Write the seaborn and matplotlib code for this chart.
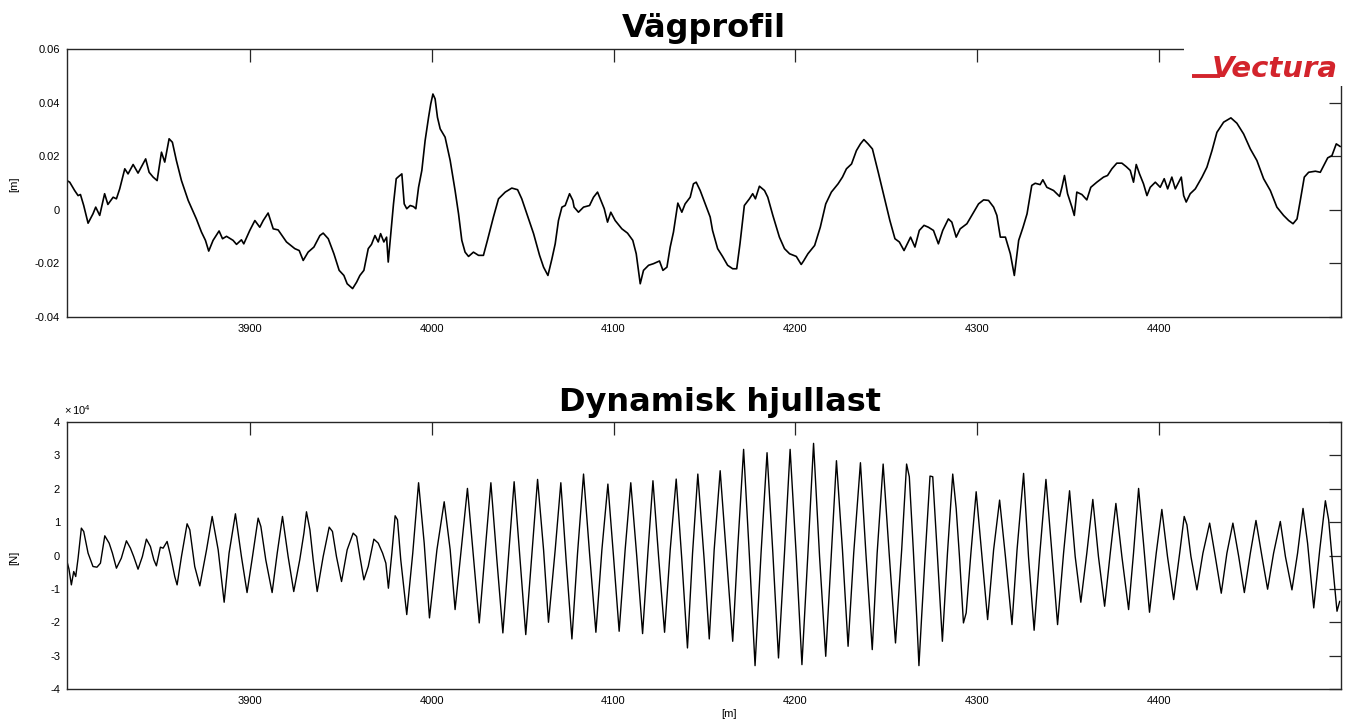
import matplotlib
matplotlib.use("Agg")
import matplotlib.pyplot as plt
import numpy as np
import pandas as pd
import seaborn as sns
from matplotlib.patches import Rectangle
from matplotlib.lines import Line2D

# ---------------------------------------------------------------------------
# Road profile [m] along the chainage [m], as (chainage, elevation) pairs
# ---------------------------------------------------------------------------
profile_3800 = [
    (3799.2, 0.0109), (3800.7, 0.0103), (3803.4, 0.0072), (3805.3, 0.0053), (3806.6, 0.0057),
    (3808.4, 0.0016), (3810.8, -0.0050), (3813.5, -0.0015), (3815.0, 0.0010), (3817.2, -0.0021),
    (3819.9, 0.0060), (3821.7, 0.0020), (3824.6, 0.0047), (3826.4, 0.0041), (3828.2, 0.0078),
    (3831.0, 0.0153), (3832.8, 0.0134), (3835.6, 0.0169), (3838.3, 0.0137), (3840.2, 0.0161),
    (3842.5, 0.0190), (3844.4, 0.0140), (3846.6, 0.0122), (3848.8, 0.0109), (3851.2, 0.0215),
    (3853.0, 0.0178), (3855.4, 0.0265), (3857.2, 0.0252), (3859.4, 0.0184), (3862.2, 0.0109),
    (3865.9, 0.0035), (3870.4, -0.0034), (3873.2, -0.0083), (3875.4, -0.0114), (3877.2, -0.0154),
    (3879.6, -0.0114), (3882.9, -0.0079), (3884.8, -0.0108), (3887.0, -0.0099), (3890.6, -0.0114),
    (3892.5, -0.0129), (3895.2, -0.0112), (3896.5, -0.0127), (3899.8, -0.0077), (3902.6, -0.0040),
    (3905.3, -0.0065), (3907.2, -0.0040), (3909.9, -0.0012), (3912.7, -0.0071), (3915.4, -0.0075),
    (3920.0, -0.0120), (3924.6, -0.0145), (3927.0, -0.0152), (3929.2, -0.0189), (3931.9, -0.0158),
    (3935.1, -0.0139), (3938.4, -0.0096), (3940.2, -0.0087), (3943.0, -0.0108), (3946.1, -0.0164),
    (3949.0, -0.0226), (3951.6, -0.0245), (3953.4, -0.0276), (3956.4, -0.0294), (3958.6, -0.0270),
    (3960.4, -0.0245), (3962.6, -0.0226), (3965.0, -0.0145), (3966.8, -0.0129), (3968.7, -0.0096),
    (3970.5, -0.0120), (3971.8, -0.0089), (3973.6, -0.0120), (3975.1, -0.0102), (3976.0, -0.0195),
]
profile_3975 = [
    (3977.4, -0.0089), (3978.9, 0.0022), (3980.4, 0.0116), (3981.7, 0.0124), (3983.5, 0.0134),
    (3984.8, 0.0022), (3986.2, 0.0004), (3988.1, 0.0016), (3989.9, 0.0012), (3991.2, 0.0004),
    (3992.7, 0.0084), (3994.5, 0.0147), (3996.3, 0.0258), (3998.2, 0.0345), (3999.4, 0.0395),
    (4000.6, 0.0432), (4001.8, 0.0414), (4003.1, 0.0345), (4004.6, 0.0302), (4007.3, 0.0271),
    (4010.1, 0.0184), (4012.8, 0.0072), (4014.7, -0.0015), (4016.5, -0.0114), (4018.3, -0.0158),
    (4020.2, -0.0174), (4022.9, -0.0158), (4025.7, -0.0170), (4028.4, -0.0170), (4030.6, -0.0114),
    (4033.9, -0.0027), (4036.7, 0.0041), (4040.4, 0.0066), (4044.0, 0.0081), (4047.2, 0.0075),
    (4049.5, 0.0041), (4052.3, -0.0015), (4056.0, -0.0089), (4059.3, -0.0170), (4061.5, -0.0214),
    (4063.9, -0.0245), (4066.1, -0.0183), (4067.9, -0.0127), (4069.7, -0.0040), (4071.6, 0.0010),
    (4073.4, 0.0016), (4075.8, 0.0060), (4077.6, 0.0035), (4078.3, 0.0010), (4080.7, -0.0009),
    (4083.5, 0.0010), (4086.8, 0.0016), (4089.0, 0.0047), (4091.2, 0.0066), (4092.7, 0.0041),
    (4094.9, 0.0004), (4096.7, -0.0046), (4098.5, -0.0009), (4100.9, -0.0040), (4104.6, -0.0071),
    (4107.7, -0.0087), (4110.6, -0.0114), (4112.5, -0.0164), (4114.7, -0.0276), (4116.5, -0.0226),
    (4119.3, -0.0207), (4122.0, -0.0201), (4125.3, -0.0191), (4127.2, -0.0226), (4129.4, -0.0214),
    (4131.2, -0.0139), (4133.0, -0.0083), (4135.4, 0.0025), (4137.6, -0.0009), (4139.4, 0.0022),
    (4142.2, 0.0047), (4144.0, 0.0097), (4145.5, 0.0103), (4147.7, 0.0072), (4150.5, 0.0022),
    (4153.2, -0.0027),
]
profile_4150 = [
    (4154.5, -0.0077), (4157.3, -0.0145), (4160.0, -0.0174), (4162.8, -0.0207), (4165.6, -0.0220),
    (4167.8, -0.0220), (4169.6, -0.0127), (4172.0, 0.0016), (4174.8, 0.0041), (4176.6, 0.0060),
    (4178.1, 0.0041), (4180.3, 0.0088), (4183.1, 0.0072), (4184.9, 0.0047), (4187.7, -0.0021),
    (4191.3, -0.0102), (4194.1, -0.0145), (4196.9, -0.0164), (4200.6, -0.0174), (4203.3, -0.0204),
    (4204.6, -0.0191), (4207.0, -0.0164), (4210.7, -0.0133), (4213.8, -0.0065), (4216.8, 0.0022),
    (4219.9, 0.0066), (4223.6, 0.0097), (4226.0, 0.0122), (4228.2, 0.0153), (4231.0, 0.0171),
    (4233.7, 0.0221), (4235.9, 0.0246), (4237.8, 0.0262), (4240.1, 0.0246), (4242.5, 0.0227),
    (4245.7, 0.0140), (4249.4, 0.0035), (4252.1, -0.0040), (4254.9, -0.0108), (4257.3, -0.0120),
    (4259.9, -0.0152), (4261.7, -0.0127), (4263.5, -0.0102), (4265.9, -0.0139), (4268.3, -0.0077),
    (4270.9, -0.0058), (4273.3, -0.0065), (4276.1, -0.0077), (4278.8, -0.0127), (4281.2, -0.0077),
    (4284.3, -0.0034), (4286.2, -0.0046), (4288.6, -0.0102), (4290.8, -0.0071), (4294.5, -0.0052),
    (4297.2, -0.0021), (4300.9, 0.0022), (4303.7, 0.0037), (4306.4, 0.0035), (4309.2, 0.0010),
    (4311.0, -0.0021), (4312.9, -0.0102), (4315.7, -0.0102), (4318.4, -0.0164), (4320.6, -0.0245),
    (4323.0, -0.0114), (4325.4, -0.0065), (4327.6, -0.0015),
]
profile_4330 = [
    (4330.2, 0.0091), (4332.1, 0.0099), (4334.8, 0.0094), (4336.3, 0.0112), (4338.5, 0.0084),
    (4342.2, 0.0072), (4345.5, 0.0050), (4346.8, 0.0084), (4348.2, 0.0128), (4349.9, 0.0060),
    (4352.3, 0.0010), (4353.6, -0.0021), (4355.0, 0.0066), (4357.8, 0.0057), (4360.5, 0.0037),
    (4362.7, 0.0084), (4366.0, 0.0103), (4369.7, 0.0122), (4371.9, 0.0128), (4374.3, 0.0153),
    (4377.0, 0.0174), (4379.8, 0.0174), (4382.2, 0.0161), (4384.4, 0.0147), (4386.2, 0.0103),
    (4387.7, 0.0169), (4389.5, 0.0134), (4391.7, 0.0097), (4393.6, 0.0053), (4395.4, 0.0084),
    (4398.2, 0.0103), (4400.9, 0.0084), (4403.1, 0.0116), (4405.0, 0.0078), (4407.3, 0.0122),
    (4409.2, 0.0078), (4412.5, 0.0122), (4413.8, 0.0053), (4415.2, 0.0029), (4417.4, 0.0060),
    (4420.2, 0.0078), (4423.9, 0.0122), (4426.6, 0.0159), (4429.4, 0.0221), (4432.1, 0.0289),
    (4435.8, 0.0327), (4439.8, 0.0343), (4443.1, 0.0323), (4446.8, 0.0283), (4450.5, 0.0227),
    (4454.1, 0.0184), (4457.8, 0.0116), (4461.5, 0.0072), (4465.1, 0.0010), (4468.8, -0.0021),
    (4471.6, -0.0040), (4474.0, -0.0052), (4476.2, -0.0034), (4478.0, 0.0035), (4480.2, 0.0122),
    (4482.6, 0.0140), (4486.3, 0.0144), (4489.0, 0.0140), (4490.9, 0.0165), (4493.1, 0.0194),
    (4495.4, 0.0202), (4497.8, 0.0246), (4500.0, 0.0236),
]

# ---------------------------------------------------------------------------
# Dynamic wheel load [x 10^4 N] along the chainage [m]
# ---------------------------------------------------------------------------
load_3800 = [
    (3799.2, -0.18), (3800.3, -0.41), (3801.6, -0.88), (3802.9, -0.48), (3804.0, -0.63),
    (3805.3, -0.08), (3807.1, 0.82), (3808.4, 0.72), (3810.8, 0.07), (3813.5, -0.33),
    (3815.7, -0.35), (3817.6, -0.23), (3820.0, 0.59), (3822.4, 0.37), (3824.2, 0.07),
    (3826.4, -0.38), (3829.1, -0.08), (3831.9, 0.44), (3834.1, 0.22), (3835.9, -0.03),
    (3838.3, -0.41), (3840.7, -0.03), (3842.9, 0.49), (3845.1, 0.27), (3847.0, -0.13),
    (3848.4, -0.31), (3850.6, 0.25), (3852.1, 0.22), (3854.3, 0.42), (3856.1, 0.02),
    (3858.5, -0.63), (3859.8, -0.88), (3862.2, -0.03), (3865.3, 0.95), (3866.8, 0.77),
    (3869.5, -0.33), (3872.3, -0.91), (3876.0, 0.17), (3879.1, 1.17), (3882.4, 0.17),
    (3885.7, -1.40), (3888.4, 0.07), (3891.9, 1.25), (3895.2, -0.03), (3898.3, -1.11),
    (3901.3, -0.03), (3904.4, 1.12), (3905.9, 0.87), (3908.6, -0.13), (3912.1, -1.11),
    (3914.9, 0.07), (3917.8, 1.17), (3920.9, -0.03), (3924.0, -1.08), (3927.3, -0.13),
    (3929.6, 0.67), (3931.0, 1.31), (3932.9, 0.77), (3934.7, -0.13), (3936.9, -1.08),
    (3940.2, -0.03), (3943.5, 0.85), (3945.3, 0.72), (3947.5, -0.03), (3950.3, -0.78),
    (3953.4, 0.17), (3956.7, 0.67), (3958.6, 0.57), (3960.4, -0.03), (3962.6, -0.73),
    (3965.0, -0.33), (3968.1, 0.49), (3970.5, 0.37), (3972.9, 0.07), (3974.7, -0.23),
]
load_3975 = [
    (3976.1, -0.98), (3978.0, 0.07), (3979.8, 1.19), (3981.1, 1.07), (3982.9, -0.13),
    (3986.2, -1.77), (3989.5, 0.07), (3992.7, 2.18), (3995.8, 0.37), (3998.7, -1.87),
    (4002.8, 0.17), (4006.8, 1.61), (4010.1, 0.17), (4012.8, -1.62), (4016.5, 0.37),
    (4019.6, 2.01), (4022.9, -0.03), (4026.1, -2.02), (4029.4, 0.17), (4032.5, 2.18),
    (4035.8, -0.13), (4039.1, -2.32), (4042.2, -0.03), (4045.3, 2.21), (4048.6, -0.13),
    (4051.7, -2.37), (4055.0, -0.03), (4058.2, 2.28), (4061.5, 0.17), (4064.2, -2.00),
    (4067.9, 0.17), (4071.0, 2.18), (4073.9, -0.13), (4077.1, -2.50), (4080.2, 0.07),
    (4083.5, 2.44), (4086.8, 0.07), (4090.3, -2.30), (4093.6, 0.17), (4096.9, 2.14),
    (4100.0, -0.03), (4103.1, -2.27), (4106.4, 0.17), (4109.5, 2.18), (4112.8, -0.03),
    (4116.0, -2.34), (4118.9, 0.07), (4121.7, 2.24), (4124.8, -0.03), (4128.1, -2.30),
    (4131.2, 0.17), (4134.5, 2.29), (4137.6, -0.13), (4140.7, -2.77), (4143.5, 0.07),
    (4146.4, 2.44),
]
load_4150 = [
    (4149.9, -0.13), (4152.7, -2.50), (4155.4, 0.17), (4158.7, 2.54), (4161.9, 0.17),
    (4165.6, -2.57), (4168.3, 0.17), (4171.6, 3.18), (4174.8, -0.03), (4177.9, -3.30),
    (4181.2, 0.07), (4184.5, 3.08), (4187.7, 0.07), (4190.8, -3.07), (4194.1, 0.07),
    (4197.2, 3.18), (4200.6, -0.03), (4203.7, -3.27), (4207.0, 0.07), (4210.1, 3.36),
    (4213.4, -0.03), (4216.8, -3.02), (4219.9, 0.07), (4222.7, 2.84), (4226.0, 0.17),
    (4229.1, -2.72), (4232.2, 0.07), (4235.9, 2.78), (4238.9, 0.07), (4242.4, -2.82),
    (4245.1, 0.07), (4248.4, 2.74), (4251.7, 0.07), (4255.2, -2.62), (4258.6, 0.17),
    (4261.3, 2.74), (4262.8, 2.36), (4265.0, 0.17), (4266.9, -1.87), (4268.1, -3.30),
    (4269.6, -1.82), (4271.5, -0.03), (4274.2, 2.38), (4275.7, 2.36), (4278.3, -0.03),
    (4281.0, -2.57), (4283.8, 0.07), (4286.7, 2.44), (4288.6, 1.41), (4290.4, -0.03),
    (4292.6, -2.02), (4294.1, -1.72), (4296.7, 0.07), (4299.6, 1.91), (4302.8, -0.03),
    (4305.9, -1.92), (4309.2, 0.17), (4312.5, 1.66), (4315.7, -0.03), (4319.3, -2.07),
    (4322.1, 0.17),
]
load_4325 = [
    (4325.7, 2.46), (4328.4, -0.03), (4331.5, -2.24), (4334.5, -0.03), (4338.0, 2.28),
    (4341.3, 0.07), (4344.4, -2.07), (4347.7, 0.07), (4351.0, 1.94), (4354.1, -0.03),
    (4357.2, -1.40), (4360.5, 0.07), (4363.8, 1.68), (4366.9, -0.03), (4370.3, -1.52),
    (4373.4, 0.07), (4376.5, 1.56), (4379.8, -0.03), (4383.5, -1.62), (4386.2, 0.07),
    (4389.0, 2.01), (4391.7, 0.37), (4395.0, -1.70), (4398.7, 0.07), (4401.8, 1.38),
    (4404.9, -0.03), (4408.3, -1.32), (4411.6, 0.07), (4414.1, 1.17), (4415.6, 0.92),
    (4417.8, -0.03), (4421.1, -1.03), (4424.4, 0.07), (4428.1, 0.97), (4431.2, -0.03),
    (4434.5, -1.13), (4437.6, 0.07), (4440.9, 0.97), (4444.1, -0.03), (4447.2, -1.11),
    (4450.5, 0.07), (4453.6, 1.05), (4456.9, -0.03), (4460.0, -1.01), (4463.3, 0.07),
    (4467.0, 1.02), (4469.8, -0.03), (4473.4, -1.03), (4476.5, 0.07), (4479.5, 1.41),
    (4482.0, 0.37), (4485.4, -1.57), (4488.7, 0.17), (4491.8, 1.64), (4493.6, 1.07),
    (4496.4, -0.63), (4498.2, -1.67), (4499.7, -1.37),
]

# Axis ticks and labels
x_ticks = [3900, 4000, 4100, 4200, 4300, 4400]
x_tick_labels = ["3900", "4000", "4100", "4200", "4300", "4400"]
profile_ticks = [-0.04, -0.02, 0.0, 0.02, 0.04, 0.06]
profile_tick_labels = ["-0.04", "-0.02", "0", "0.02", "0.04", "0.06"]
load_ticks = [-4, -3, -2, -1, 0, 1, 2, 3, 4]
load_tick_labels = ["-4", "-3", "-2", "-1", "0", "1", "2", "3", "4"]
x_range = (3799.2, 4500.4)

profile = pd.DataFrame(profile_3800 + profile_3975 + profile_4150 + profile_4330,
                       columns=["chainage", "elevation"])
load = pd.DataFrame(load_3800 + load_3975 + load_4150 + load_4325,
                    columns=["chainage", "force"])

# ---------------------------------------------------------------------------
# Figure
# ---------------------------------------------------------------------------
sns.set_style("white")
plt.rcParams["font.family"] = ["Liberation Sans", "DejaVu Sans"]
plt.rcParams["text.color"] = "black"
plt.rcParams["mathtext.fontset"] = "custom"
plt.rcParams["mathtext.rm"] = "Liberation Sans"
plt.rcParams["mathtext.it"] = "Liberation Sans:italic"

W, H = 1355, 726
fig = plt.figure(figsize=(W / 100, H / 100), dpi=100)
fig.patch.set_facecolor("white")


def fx(px):
    return px / W


def fy(py):
    return 1 - py / H


def axes_box(left, top, right, bottom):
    return [fx(left), fy(bottom), fx(right) - fx(left), fy(top) - fy(bottom)]


ax_top = fig.add_axes(axes_box(67, 49, 1341, 317))
ax_bot = fig.add_axes(axes_box(67, 422, 1341, 689))

sns.lineplot(data=profile, x="chainage", y="elevation", ax=ax_top, color="black",
             linewidth=1.2, sort=False, estimator=None)
sns.lineplot(data=load, x="chainage", y="force", ax=ax_bot, color="black",
             linewidth=1.0, sort=False, estimator=None)

edge = "#262626"
for ax, yt, ytl, ylim in [
    (ax_top, profile_ticks, profile_tick_labels, (-0.04, 0.06)),
    (ax_bot, load_ticks, load_tick_labels, (-4, 4)),
]:
    ax.set_xlim(*x_range)
    ax.set_ylim(*ylim)
    ax.set_xticks(x_ticks)
    ax.set_xticklabels(x_tick_labels)
    ax.set_yticks(yt)
    ax.set_yticklabels(ytl)
    ax.set_xlabel("")
    ax.set_ylabel("")
    ax.tick_params(axis="both", direction="in", length=9, width=0.9, color=edge,
                   labelsize=8, labelcolor="black", top=True, right=True)
    ax.tick_params(axis="x", pad=5)
    ax.tick_params(axis="y", pad=5)
    for sp in ax.spines.values():
        sp.set_visible(True)
        sp.set_color(edge)
        sp.set_linewidth(1.0)

# Titles
fig.text(fx(704), fy(37), "Vägprofil", ha="center", va="baseline", color="black",
         fontsize=23, fontweight="bold", family="DejaVu Sans")
fig.text(fx(720), fy(411), "Dynamisk hjullast", ha="center", va="baseline", color="black",
         fontsize=23, fontweight="bold", family="DejaVu Sans")

# Axis labels
fig.text(fx(14), fy(184), "[m]", rotation=90, ha="center", va="center", fontsize=8)
fig.text(fx(14), fy(558), "[N]", rotation=90, ha="center", va="center", fontsize=8)
fig.text(fx(729), fy(714), "[m]", ha="center", va="center", fontsize=8)
fig.text(fx(64), fy(410), r"$\times\,10^{4}$", ha="left", va="center", fontsize=8)

# Logo in the upper right corner of the profile panel
fig.add_artist(Rectangle((fx(1184), fy(86)), fx(1355) - fx(1184), fy(30) - fy(86),
                         transform=fig.transFigure, facecolor="white",
                         edgecolor="none", zorder=5))
red = "#d3242c"
fig.text(fx(1338), fy(77), "Vectura", ha="right", va="baseline", color=red,
         fontsize=21, fontweight="bold", fontstyle="italic", family="DejaVu Sans",
         zorder=6)
fig.add_artist(Line2D([fx(1192), fx(1220)], [fy(76), fy(76)],
                      transform=fig.transFigure, color=red, linewidth=2.8,
                      solid_capstyle="butt", zorder=6))

fig.savefig("out.png", dpi=100, facecolor="white")
